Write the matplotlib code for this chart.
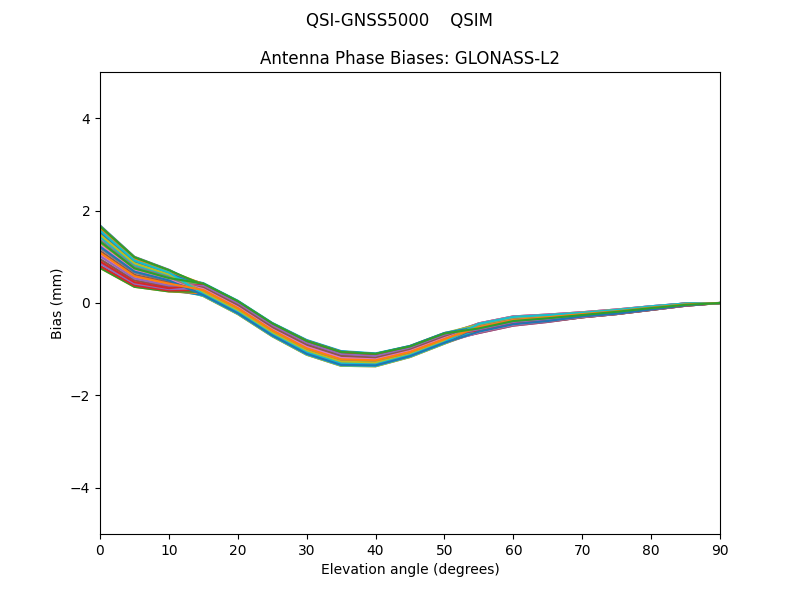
import matplotlib
matplotlib.use("Agg")
import matplotlib.pyplot as plt

elevation = [0, 5, 10, 15, 20, 25, 30, 35, 40, 45, 50, 55, 60, 65, 70, 75, 80, 85, 90]

# one row of biases (mm) per azimuth
bias_rows = [
    [1.68, 1.00, 0.72, 0.35, -0.03, -0.51, -0.89, -1.13, -1.17, -0.99, -0.71, -0.61, -0.45, -0.38, -0.29, -0.22, -0.13, -0.05, 0.0],
    [1.66, 0.99, 0.71, 0.32, -0.07, -0.55, -0.93, -1.17, -1.20, -1.03, -0.74, -0.63, -0.47, -0.39, -0.30, -0.23, -0.14, -0.05, 0.0],
    [1.62, 0.95, 0.69, 0.28, -0.10, -0.58, -0.97, -1.21, -1.24, -1.06, -0.77, -0.64, -0.48, -0.40, -0.31, -0.24, -0.15, -0.06, 0.0],
    [1.53, 0.90, 0.64, 0.24, -0.14, -0.62, -1.01, -1.25, -1.28, -1.09, -0.80, -0.65, -0.49, -0.41, -0.31, -0.24, -0.15, -0.06, 0.0],
    [1.43, 0.82, 0.59, 0.21, -0.18, -0.66, -1.05, -1.29, -1.31, -1.12, -0.83, -0.65, -0.49, -0.41, -0.31, -0.24, -0.15, -0.06, 0.0],
    [1.31, 0.74, 0.53, 0.18, -0.21, -0.69, -1.08, -1.32, -1.34, -1.14, -0.85, -0.64, -0.48, -0.40, -0.31, -0.24, -0.15, -0.06, 0.0],
    [1.19, 0.66, 0.47, 0.16, -0.23, -0.71, -1.11, -1.35, -1.36, -1.16, -0.87, -0.63, -0.47, -0.39, -0.30, -0.23, -0.14, -0.05, 0.0],
    [1.06, 0.56, 0.41, 0.15, -0.24, -0.72, -1.12, -1.36, -1.37, -1.17, -0.88, -0.61, -0.45, -0.38, -0.29, -0.22, -0.13, -0.05, 0.0],
    [0.95, 0.49, 0.35, 0.15, -0.24, -0.72, -1.12, -1.36, -1.37, -1.17, -0.88, -0.58, -0.42, -0.36, -0.27, -0.21, -0.12, -0.04, 0.0],
    [0.86, 0.42, 0.30, 0.16, -0.23, -0.71, -1.11, -1.35, -1.36, -1.16, -0.87, -0.55, -0.40, -0.33, -0.26, -0.19, -0.11, -0.04, 0.0],
    [0.80, 0.38, 0.27, 0.18, -0.21, -0.69, -1.08, -1.32, -1.34, -1.14, -0.85, -0.52, -0.37, -0.31, -0.24, -0.18, -0.10, -0.03, 0.0],
    [0.76, 0.35, 0.25, 0.21, -0.18, -0.66, -1.05, -1.29, -1.31, -1.12, -0.83, -0.50, -0.34, -0.29, -0.23, -0.17, -0.09, -0.02, 0.0],
    [0.76, 0.35, 0.25, 0.24, -0.14, -0.62, -1.01, -1.25, -1.28, -1.09, -0.80, -0.47, -0.32, -0.28, -0.22, -0.16, -0.08, -0.02, 0.0],
    [0.80, 0.38, 0.27, 0.28, -0.10, -0.58, -0.97, -1.21, -1.24, -1.06, -0.77, -0.45, -0.30, -0.26, -0.21, -0.15, -0.08, -0.01, 0.0],
    [0.86, 0.42, 0.30, 0.32, -0.07, -0.55, -0.93, -1.17, -1.20, -1.03, -0.74, -0.44, -0.29, -0.25, -0.20, -0.14, -0.07, -0.01, 0.0],
    [0.95, 0.49, 0.35, 0.35, -0.03, -0.51, -0.89, -1.13, -1.17, -0.99, -0.71, -0.44, -0.29, -0.25, -0.20, -0.14, -0.07, -0.01, 0.0],
    [1.06, 0.56, 0.41, 0.39, 0.00, -0.48, -0.85, -1.09, -1.13, -0.97, -0.69, -0.44, -0.29, -0.25, -0.20, -0.14, -0.07, -0.01, 0.0],
    [1.19, 0.66, 0.47, 0.41, 0.03, -0.45, -0.82, -1.06, -1.11, -0.95, -0.67, -0.45, -0.30, -0.26, -0.21, -0.15, -0.08, -0.01, 0.0],
    [1.31, 0.74, 0.53, 0.42, 0.04, -0.44, -0.81, -1.05, -1.10, -0.93, -0.65, -0.47, -0.32, -0.28, -0.22, -0.16, -0.08, -0.02, 0.0],
    [1.43, 0.82, 0.59, 0.43, 0.05, -0.43, -0.80, -1.04, -1.09, -0.93, -0.65, -0.50, -0.34, -0.29, -0.23, -0.17, -0.09, -0.02, 0.0],
    [1.53, 0.90, 0.64, 0.42, 0.04, -0.44, -0.81, -1.05, -1.10, -0.93, -0.65, -0.52, -0.37, -0.31, -0.24, -0.18, -0.10, -0.03, 0.0],
    [1.62, 0.95, 0.69, 0.41, 0.03, -0.45, -0.82, -1.06, -1.11, -0.95, -0.67, -0.55, -0.40, -0.33, -0.26, -0.19, -0.11, -0.04, 0.0],
    [1.66, 0.99, 0.71, 0.39, 0.00, -0.48, -0.85, -1.09, -1.13, -0.97, -0.69, -0.58, -0.42, -0.36, -0.27, -0.21, -0.12, -0.04, 0.0],
    [0.90, 0.45, 0.32, 0.40, 0.02, -0.46, -0.83, -1.07, -1.12, -0.95, -0.67, -0.60, -0.44, -0.37, -0.28, -0.22, -0.13, -0.05, 0.0],
    [1.01, 0.53, 0.38, 0.37, -0.01, -0.49, -0.87, -1.11, -1.15, -0.98, -0.70, -0.57, -0.41, -0.35, -0.27, -0.20, -0.12, -0.04, 0.0],
    [1.13, 0.61, 0.44, 0.33, -0.05, -0.53, -0.91, -1.15, -1.19, -1.01, -0.73, -0.53, -0.38, -0.32, -0.25, -0.19, -0.11, -0.03, 0.0],
    [1.25, 0.70, 0.50, 0.30, -0.09, -0.57, -0.95, -1.19, -1.22, -1.04, -0.76, -0.51, -0.35, -0.30, -0.24, -0.17, -0.10, -0.03, 0.0],
    [1.37, 0.78, 0.56, 0.26, -0.12, -0.60, -0.99, -1.23, -1.26, -1.07, -0.79, -0.48, -0.33, -0.28, -0.22, -0.16, -0.09, -0.02, 0.0],
    [1.48, 0.86, 0.62, 0.23, -0.16, -0.64, -1.03, -1.27, -1.29, -1.11, -0.82, -0.46, -0.31, -0.27, -0.21, -0.15, -0.08, -0.02, 0.0],
    [1.57, 0.92, 0.66, 0.19, -0.20, -0.68, -1.07, -1.31, -1.33, -1.13, -0.85, -0.45, -0.30, -0.26, -0.21, -0.15, -0.07, -0.01, 0.0],
    [1.22, 0.68, 0.49, 0.17, -0.22, -0.70, -1.10, -1.34, -1.35, -1.15, -0.86, -0.62, -0.46, -0.39, -0.29, -0.23, -0.14, -0.05, 0.0],
    [1.09, 0.58, 0.42, 0.28, -0.11, -0.59, -0.98, -1.22, -1.24, -1.06, -0.78, -0.52, -0.37, -0.31, -0.24, -0.18, -0.10, -0.03, 0.0],
    [1.33, 0.75, 0.54, 0.42, 0.04, -0.44, -0.82, -1.06, -1.10, -0.94, -0.66, -0.55, -0.39, -0.33, -0.26, -0.19, -0.11, -0.04, 0.0],
]

x_ticks = [0, 10, 20, 30, 40, 50, 60, 70, 80, 90]
y_ticks = [-4, -2, 0, 2, 4]

fig, ax = plt.subplots(figsize=(8, 6), dpi=100)
for row in bias_rows:
    ax.plot(elevation, row)

ax.set_xlim(0, 90)
ax.set_ylim(-5, 5)
ax.set_xticks(x_ticks)
ax.set_yticks(y_ticks)
ax.set_xlabel("Elevation angle (degrees)")
ax.set_ylabel("Bias (mm)")
ax.set_title("Antenna Phase Biases: GLONASS-L2")
fig.suptitle("QSI-GNSS5000    QSIM")

fig.savefig("out.png", dpi=100)
